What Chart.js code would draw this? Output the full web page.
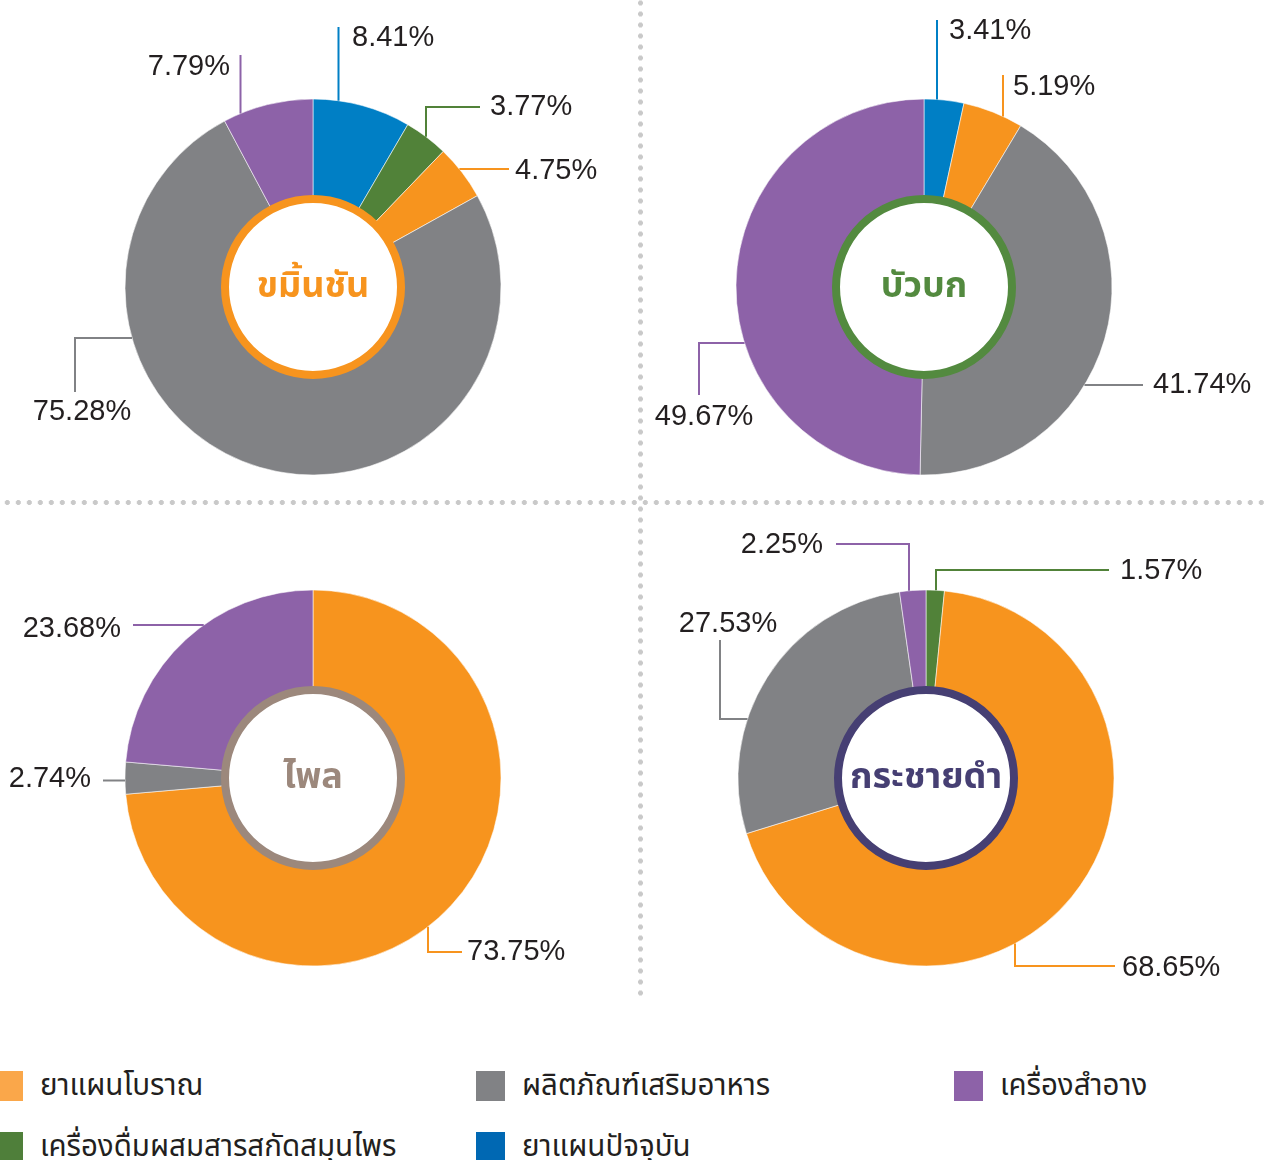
<!DOCTYPE html>
<html>
<head>
<meta charset="utf-8">
<script src="https://cdn.jsdelivr.net/npm/chart.js@4.4.1/dist/chart.umd.min.js"></script>
<style>
  body { margin: 0; width: 1265px; height: 1160px; overflow: hidden; background: #fff; position: relative;
         font-family: "Noto Sans Thai", "Noto Sans", sans-serif; }
  canvas { position: absolute; }
  .dots-h { position: absolute; left: 0; top: 496.5px; width: 1265px; height: 11px;
            background: radial-gradient(circle, #c9c9c9 2.2px, rgba(255,255,255,0) 2.7px) 1.8px 0 / 11px 11px repeat-x; }
  .dots-v { position: absolute; left: 634.5px; top: 0; width: 11px; height: 998px;
            background: radial-gradient(circle, #c9c9c9 2.2px, rgba(255,255,255,0) 2.7px) 0 -2.5px / 11px 11px repeat-y; }
  #legend { position: absolute; left: -6px; top: 1071px; display: grid;
            grid-template-columns: 482px 478px auto; row-gap: 31px; }
  .item { display: flex; align-items: center; height: 30px; }
  .sw { width: 29px; height: 30px; margin-right: 17px; flex: none; }
  .item span { font-size: 29.5px; color: #231f20; white-space: nowrap; }
</style>
</head>
<body>
<div class="dots-h"></div>
<div class="dots-v"></div>
<canvas id="c1" width="632" height="500" style="left:0;top:0"></canvas>
<canvas id="c2" width="633" height="500" style="left:632px;top:0"></canvas>
<canvas id="c3" width="632" height="500" style="left:0;top:500px"></canvas>
<canvas id="c4" width="633" height="500" style="left:632px;top:500px"></canvas>
<div id="legend"></div>
<script>
// categories (legend order)
const categories = ['ยาแผนโบราณ', 'ผลิตภัณฑ์เสริมอาหาร', 'เครื่องสำอาง', 'เครื่องดื่มผสมสารสกัดสมุนไพร', 'ยาแผนปัจจุบัน'];

// slices of each herb, clockwise from 12 o'clock
const khaminLabels = ['ยาแผนปัจจุบัน', 'เครื่องดื่มผสมสารสกัดสมุนไพร', 'ยาแผนโบราณ', 'ผลิตภัณฑ์เสริมอาหาร', 'เครื่องสำอาง'];
const khaminValues = [8.41, 3.77, 4.75, 75.28, 7.79];

const buabokLabels = ['ยาแผนปัจจุบัน', 'ยาแผนโบราณ', 'ผลิตภัณฑ์เสริมอาหาร', 'เครื่องสำอาง'];
const buabokValues = [3.41, 5.19, 41.74, 49.67];

const phlaiLabels = ['ยาแผนโบราณ', 'ผลิตภัณฑ์เสริมอาหาร', 'เครื่องสำอาง'];
const phlaiValues = [73.75, 2.74, 23.68];

const krachaiLabels = ['เครื่องดื่มผสมสารสกัดสมุนไพร', 'ยาแผนโบราณ', 'ผลิตภัณฑ์เสริมอาหาร', 'เครื่องสำอาง'];
const krachaiValues = [1.57, 68.65, 27.53, 2.25];

const sliceColor = {
  'ยาแผนโบราณ': '#f7941e',
  'ผลิตภัณฑ์เสริมอาหาร': '#818285',
  'เครื่องสำอาง': '#8d62a8',
  'เครื่องดื่มผสมสารสกัดสมุนไพร': '#518239',
  'ยาแผนปัจจุบัน': '#007fc5'
};
const legendColor = {
  'ยาแผนโบราณ': '#faa74a',
  'ผลิตภัณฑ์เสริมอาหาร': '#818285',
  'เครื่องสำอาง': '#8d62a8',
  'เครื่องดื่มผสมสารสกัดสมุนไพร': '#4f7f3a',
  'ยาแผนปัจจุบัน': '#0068b3'
};

const R = 188;
const CUT = 88;

// leader lines: v = first leg vertical, pts relative to the centre, lab = label anchor
const leaderPlugin = {
  id: 'leaders',
  afterDatasetsDraw(chart, args, opts) {
    const ctx = chart.ctx;
    const meta = chart.getDatasetMeta(0);
    const values = chart.data.datasets[0].data;
    const colors = chart.data.datasets[0].backgroundColor;
    ctx.save();
    meta.data.forEach((arc, i) => {
      const spec = opts.specs[i];
      if (!spec) return;
      const { x, y, outerRadius } = arc.getProps(['x', 'y', 'outerRadius'], true);
      const p0 = spec.pts[0];
      let sx, sy;
      if (spec.v) {
        sx = p0[0];
        sy = Math.sign(p0[1]) * Math.sqrt(outerRadius * outerRadius - sx * sx);
      } else {
        sy = p0[1];
        sx = Math.sign(p0[0]) * Math.sqrt(outerRadius * outerRadius - sy * sy);
      }
      ctx.strokeStyle = colors[i];
      ctx.lineWidth = 2;
      ctx.beginPath();
      ctx.moveTo(x + sx, y + sy);
      spec.pts.forEach(p => ctx.lineTo(x + p[0], y + p[1]));
      ctx.stroke();

      ctx.fillStyle = '#231f20';
      ctx.font = '29px "Liberation Sans", Arial, sans-serif';
      ctx.textBaseline = 'middle';
      ctx.textAlign = spec.align;
      ctx.fillText(values[i].toFixed(2) + '%', x + spec.lab[0], y + spec.lab[1]);
    });
    ctx.restore();
  }
};

const centerPlugin = {
  id: 'centerRing',
  afterDraw(chart, args, opts) {
    const ctx = chart.ctx;
    const arc = chart.getDatasetMeta(0).data[0];
    const { x, y } = arc.getProps(['x', 'y'], true);
    ctx.save();
    ctx.beginPath();
    ctx.arc(x, y, CUT, 0, Math.PI * 2);
    ctx.fillStyle = '#fff';
    ctx.fill();
    ctx.lineWidth = 8;
    ctx.strokeStyle = opts.color;
    ctx.stroke();
    ctx.fillStyle = opts.color;
    ctx.font = 'bold 36px "Noto Sans Thai", "Noto Sans", sans-serif';
    ctx.textAlign = 'center';
    ctx.textBaseline = 'alphabetic';
    ctx.fillText(opts.text, x, y + 10);
    ctx.restore();
  }
};

function makeDonut(id, labels, values, cx, cy, title, ringColor, specs) {
  const canvas = document.getElementById(id);
  const W = canvas.width, H = canvas.height;
  new Chart(canvas, {
    type: 'doughnut',
    data: {
      labels: labels,
      datasets: [{
        data: values,
        backgroundColor: labels.map(l => sliceColor[l]),
        borderColor: 'rgba(255,255,255,0.55)',
        borderWidth: 1
      }]
    },
    options: {
      responsive: false,
      animation: false,
      radius: R,
      cutout: CUT,
      layout: { padding: { left: cx - R, top: cy - R, right: W - cx - R, bottom: H - cy - R } },
      plugins: {
        legend: { display: false },
        tooltip: { enabled: false },
        leaders: { specs: specs },
        centerRing: { color: ringColor, text: title }
      }
    },
    plugins: [leaderPlugin, centerPlugin]
  });
}

makeDonut('c1', khaminLabels, khaminValues, 313, 287, 'ขมิ้นชัน', '#f7941e', [
  { v: true, pts: [[25.5, -260]], lab: [39, -249.5], align: 'left' },
  { v: true, pts: [[113, -180], [167, -180]], lab: [177, -180], align: 'left' },
  { v: false, pts: [[196, -118]], lab: [202, -116], align: 'left' },
  { v: false, pts: [[-238, 51], [-238, 105]], lab: [-231, 125], align: 'center' },
  { v: true, pts: [[-72.5, -232]], lab: [-83, -220], align: 'right' }
]);

makeDonut('c2', buabokLabels, buabokValues, 292, 287, 'บัวบก', '#538a3f', [
  { v: true, pts: [[13, -267]], lab: [25, -256], align: 'left' },
  { v: true, pts: [[79, -212]], lab: [89, -200], align: 'left' },
  { v: false, pts: [[219, 98]], lab: [229, 98], align: 'left' },
  { v: false, pts: [[-225, 56], [-225, 108]], lab: [-220, 130], align: 'center' }
]);

makeDonut('c3', phlaiLabels, phlaiValues, 313, 278, 'ไพล', '#9c887c', [
  { v: true, pts: [[115, 174], [149, 174]], lab: [154, 174], align: 'left' },
  { v: false, pts: [[-210, 2.5]], lab: [-222, 1], align: 'right' },
  { v: false, pts: [[-180, -153]], lab: [-192, -149], align: 'right' }
]);

makeDonut('c4', krachaiLabels, krachaiValues, 294, 278, 'กระชายดำ', '#463f73', [
  { v: true, pts: [[10, -208], [183, -208]], lab: [194, -207], align: 'left' },
  { v: true, pts: [[89, 188], [189, 188]], lab: [196, 190], align: 'left' },
  { v: false, pts: [[-206, -59], [-206, -138]], lab: [-198, -154], align: 'center' },
  { v: true, pts: [[-17, -234], [-90, -234]], lab: [-103, -233], align: 'right' }
]);

// legend
const legend = document.getElementById('legend');
categories.forEach(c => {
  const item = document.createElement('div');
  item.className = 'item';
  item.innerHTML = '<div class="sw" style="background:' + legendColor[c] + '"></div><span>' + c + '</span>';
  legend.appendChild(item);
});
</script>
</body>
</html>
